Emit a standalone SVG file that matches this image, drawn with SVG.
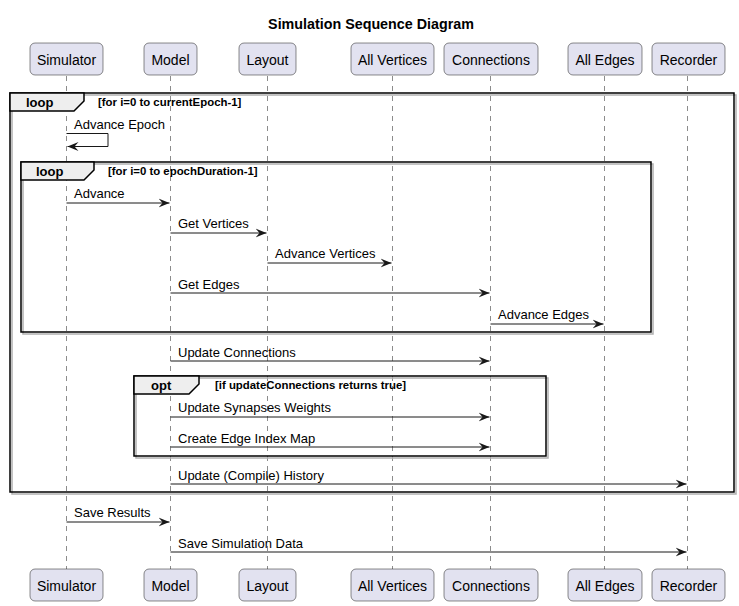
<svg xmlns="http://www.w3.org/2000/svg" width="739" height="606" viewBox="0 0 739 606">
<defs>
<style>
.pbox{fill:#E2E2F0;stroke:#181818;stroke-width:0.5}
.ptxt{font-family:"Liberation Sans",Arial,sans-serif;font-size:14px;fill:#000;text-anchor:middle}
.life{stroke:#181818;stroke-width:0.5;stroke-dasharray:5,5;fill:none}
.msg{stroke:#181818;stroke-width:1;fill:none}
.mtxt{font-family:"Liberation Sans",Arial,sans-serif;font-size:13px;fill:#000}
.frame{fill:none;stroke:#000;stroke-width:1.5}
.shadow{fill:none;stroke:#b0b0b0;stroke-width:1.5}
.tab{fill:#EEEEEE;stroke:#000;stroke-width:1.5}
.ftxt{font-family:"Liberation Sans",Arial,sans-serif;font-size:13px;font-weight:bold;fill:#000}
.ctxt{font-family:"Liberation Sans",Arial,sans-serif;font-size:11.4px;font-weight:bold;fill:#000}
.title{font-family:"Liberation Sans",Arial,sans-serif;font-size:14.3px;font-weight:bold;fill:#000;text-anchor:middle}
</style>
<marker id="arr" viewBox="0 0 12 10" refX="11" refY="5" markerWidth="12" markerHeight="10" markerUnits="userSpaceOnUse" orient="auto">
<polygon points="0,0.5 11,5 0,9.5 4,5" fill="#181818"/>
</marker>
</defs>
<rect width="739" height="606" fill="#fff"/>
<text class="title" x="371" y="29">Simulation Sequence Diagram</text>

<g id="lifelines">
<line class="life" x1="66.5" y1="76" x2="66.5" y2="569"/>
<line class="life" x1="170.5" y1="76" x2="170.5" y2="569"/>
<line class="life" x1="267.5" y1="76" x2="267.5" y2="569"/>
<line class="life" x1="392.5" y1="76" x2="392.5" y2="569"/>
<line class="life" x1="490.5" y1="76" x2="490.5" y2="569"/>
<line class="life" x1="604.5" y1="76" x2="604.5" y2="569"/>
<line class="life" x1="687.5" y1="76" x2="687.5" y2="569"/>
</g>

<g id="frames">
<rect class="shadow" x="12" y="95" width="724" height="399"/>
<rect class="frame" x="10" y="93" width="724" height="399"/>
<polygon class="tab" points="10,93 84,93 84,101 74,111 10,111"/>
<text class="ftxt" x="26" y="107">loop</text>
<text class="ctxt" x="98" y="106">[for i=0 to currentEpoch-1]</text>

<rect class="shadow" x="23" y="164" width="630" height="170"/>
<rect class="frame" x="21" y="162" width="630" height="170"/>
<polygon class="tab" points="21,162 94,162 94,170 84,180 21,180"/>
<text class="ftxt" x="36" y="176">loop</text>
<text class="ctxt" x="108" y="175">[for i=0 to epochDuration-1]</text>

<rect class="shadow" x="136" y="378" width="412" height="80"/>
<rect class="frame" x="134" y="376" width="412" height="80"/>
<polygon class="tab" points="134,376 199,376 199,384 189,394 134,394"/>
<text class="ftxt" x="151" y="390">opt</text>
<text class="ctxt" x="215" y="389">[if updateConnections returns true]</text>
</g>

<g id="connectors">
<polyline class="msg" points="66.5,133.5 108,133.5 108,146.5 67.5,146.5" marker-end="url(#arr)"/>
<text class="mtxt" x="74" y="129">Advance Epoch</text>

<line class="msg" x1="66.5" y1="203" x2="169.5" y2="203" marker-end="url(#arr)"/>
<text class="mtxt" x="74" y="198">Advance</text>

<line class="msg" x1="170.5" y1="233" x2="266.5" y2="233" marker-end="url(#arr)"/>
<text class="mtxt" x="178" y="228">Get Vertices</text>

<line class="msg" x1="267.5" y1="263" x2="391.5" y2="263" marker-end="url(#arr)"/>
<text class="mtxt" x="275" y="258">Advance Vertices</text>

<line class="msg" x1="170.5" y1="293" x2="489.5" y2="293" marker-end="url(#arr)"/>
<text class="mtxt" x="178" y="289">Get Edges</text>

<line class="msg" x1="490.5" y1="324" x2="603.5" y2="324" marker-end="url(#arr)"/>
<text class="mtxt" x="498" y="319">Advance Edges</text>

<line class="msg" x1="170.5" y1="361" x2="489.5" y2="361" marker-end="url(#arr)"/>
<text class="mtxt" x="178" y="357">Update Connections</text>

<line class="msg" x1="170.5" y1="417" x2="489.5" y2="417" marker-end="url(#arr)"/>
<text class="mtxt" x="178" y="412">Update Synapses Weights</text>

<line class="msg" x1="170.5" y1="447" x2="489.5" y2="447" marker-end="url(#arr)"/>
<text class="mtxt" x="178" y="443">Create Edge Index Map</text>

<line class="msg" x1="170.5" y1="484" x2="686.5" y2="484" marker-end="url(#arr)"/>
<text class="mtxt" x="178" y="480">Update (Compile) History</text>

<line class="msg" x1="66.5" y1="522" x2="169.5" y2="522" marker-end="url(#arr)"/>
<text class="mtxt" x="74" y="517">Save Results</text>

<line class="msg" x1="170.5" y1="552" x2="686.5" y2="552" marker-end="url(#arr)"/>
<text class="mtxt" x="178" y="548">Save Simulation Data</text>
</g>

<g id="Simulator">
<rect class="pbox" x="30" y="43" width="73" height="32" rx="5"/>
<text class="ptxt" x="66.5" y="65">Simulator</text>
<rect class="pbox" x="30" y="569" width="73" height="32" rx="5"/>
<text class="ptxt" x="66.5" y="591">Simulator</text>
</g>
<g id="Model">
<rect class="pbox" x="144" y="43" width="53" height="32" rx="5"/>
<text class="ptxt" x="170.5" y="65">Model</text>
<rect class="pbox" x="144" y="569" width="53" height="32" rx="5"/>
<text class="ptxt" x="170.5" y="591">Model</text>
</g>
<g id="Layout">
<rect class="pbox" x="239" y="43" width="57" height="32" rx="5"/>
<text class="ptxt" x="267.5" y="65">Layout</text>
<rect class="pbox" x="239" y="569" width="57" height="32" rx="5"/>
<text class="ptxt" x="267.5" y="591">Layout</text>
</g>
<g id="AllVertices">
<rect class="pbox" x="351" y="43" width="83" height="32" rx="5"/>
<text class="ptxt" x="392.5" y="65">All Vertices</text>
<rect class="pbox" x="351" y="569" width="83" height="32" rx="5"/>
<text class="ptxt" x="392.5" y="591">All Vertices</text>
</g>
<g id="Connections">
<rect class="pbox" x="444" y="43" width="94" height="32" rx="5"/>
<text class="ptxt" x="491" y="65">Connections</text>
<rect class="pbox" x="444" y="569" width="94" height="32" rx="5"/>
<text class="ptxt" x="491" y="591">Connections</text>
</g>
<g id="AllEdges">
<rect class="pbox" x="568" y="43" width="74" height="32" rx="5"/>
<text class="ptxt" x="605" y="65">All Edges</text>
<rect class="pbox" x="568" y="569" width="74" height="32" rx="5"/>
<text class="ptxt" x="605" y="591">All Edges</text>
</g>
<g id="Recorder">
<rect class="pbox" x="652" y="43" width="73" height="32" rx="5"/>
<text class="ptxt" x="688.5" y="65">Recorder</text>
<rect class="pbox" x="652" y="569" width="73" height="32" rx="5"/>
<text class="ptxt" x="688.5" y="591">Recorder</text>
</g>
</svg>
